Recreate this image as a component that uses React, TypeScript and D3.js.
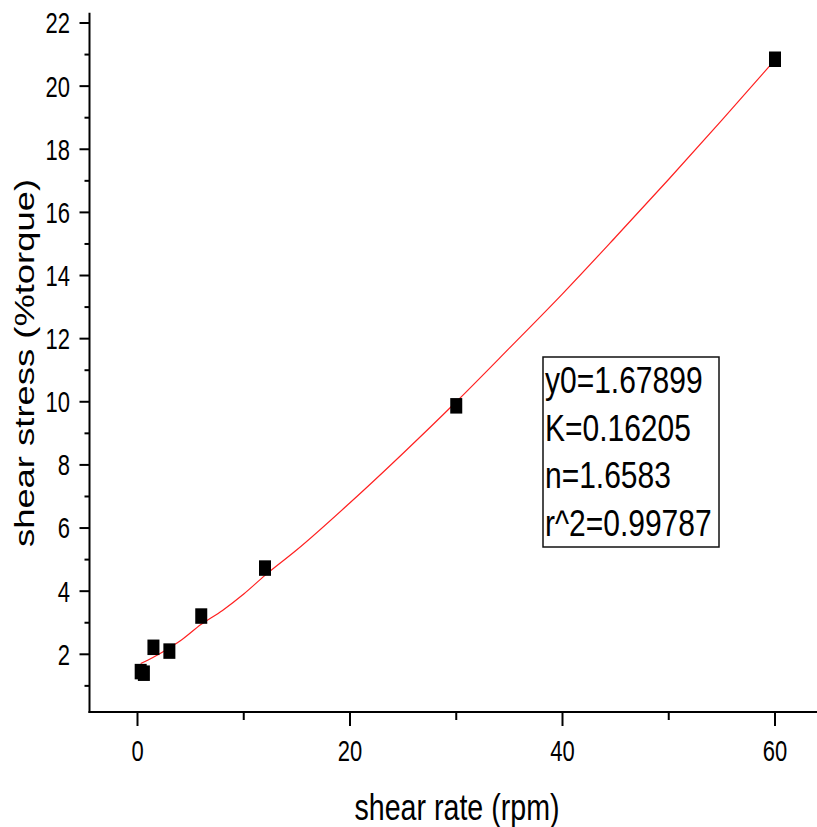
import React, { useEffect, useRef } from 'react';
import * as d3 from 'd3';

// measured points (rpm, %torque)
const shearRate = [0.3, 0.6, 1.5, 3, 6, 12, 30, 60];
const shearStress = [1.45, 1.4, 2.22, 2.1, 3.21, 4.73, 9.87, 20.85];

// fitted curve
const fitRate = [0.3, 1, 2, 3, 4, 6, 8, 10, 12, 15, 20, 25, 30, 35, 40, 45, 50, 55, 60];
const fitStress = [1.71, 1.82, 2.0, 2.21, 2.42, 2.95, 3.39, 3.91, 4.5, 5.31, 6.8, 8.37, 10.0, 11.7, 13.42, 15.22, 17.05, 18.92, 20.83];

const xMajor = [0, 20, 40, 60];
const xMinor = [10, 30, 50];
const yMajor = [2, 4, 6, 8, 10, 12, 14, 16, 18, 20, 22];
const yMinor = [1, 3, 5, 7, 9, 11, 13, 15, 17, 19, 21];

const fitLines = ['y0=1.67899', 'K=0.16205', 'n=1.6583', 'r^2=0.99787'];

const FONT = '"Liberation Sans", Arial, sans-serif';
const SY = 1.32; // the original image is stretched vertically

const App = () => {
  const svgRef = useRef<SVGSVGElement>(null);

  useEffect(() => {
    const svg = d3.select(svgRef.current);
    svg.selectAll('*').remove();

    const x = d3.scaleLinear().domain([0, 60]).range([137.5, 775]);
    const y = d3.scaleLinear().domain([2, 22]).range([654.3, 23]);
    const left = 89.5;
    const bottom = 712;
    const top = 12.7;
    const right = 817;

    const g = svg.append('g');

    // curve
    const line = d3.line<number>()
      .x((_, i) => x(fitRate[i]))
      .y(d => y(d))
      .curve(d3.curveMonotoneX);
    g.append('path')
      .datum(fitStress)
      .attr('d', line)
      .attr('fill', 'none')
      .attr('stroke', '#ff2020')
      .attr('stroke-width', 1.2);

    // points
    g.selectAll('.pt')
      .data(shearStress)
      .enter()
      .append('rect')
      .attr('class', 'pt')
      .attr('x', (_, i) => x(shearRate[i]) - 6)
      .attr('y', d => y(d) - 7.8)
      .attr('width', 12)
      .attr('height', 15.5)
      .attr('fill', '#000');

    // spines
    g.append('line').attr('x1', left).attr('x2', left).attr('y1', top).attr('y2', bottom + 1)
      .attr('stroke', '#000').attr('stroke-width', 2);
    g.append('line').attr('x1', left - 1).attr('x2', right).attr('y1', bottom).attr('y2', bottom)
      .attr('stroke', '#000').attr('stroke-width', 2);

    // y ticks
    g.selectAll('.ymaj').data(yMajor).enter().append('line')
      .attr('x1', left - 10).attr('x2', left).attr('y1', d => y(d)).attr('y2', d => y(d))
      .attr('stroke', '#000').attr('stroke-width', 2);
    g.selectAll('.ymin').data(yMinor).enter().append('line')
      .attr('x1', left - 5).attr('x2', left).attr('y1', d => y(d)).attr('y2', d => y(d))
      .attr('stroke', '#000').attr('stroke-width', 2);
    g.selectAll('.ylab').data(yMajor).enter().append('text')
      .attr('transform', d => `translate(70,${y(d)}) scale(1,${SY})`)
      .attr('y', 7.9)
      .attr('text-anchor', 'end')
      .attr('font-family', FONT)
      .attr('font-size', 22)
      .attr('fill', '#000')
      .text(d => d);

    // x ticks
    g.selectAll('.xmaj').data(xMajor).enter().append('line')
      .attr('x1', d => x(d)).attr('x2', d => x(d)).attr('y1', bottom).attr('y2', bottom + 14)
      .attr('stroke', '#000').attr('stroke-width', 2);
    g.selectAll('.xmin').data(xMinor).enter().append('line')
      .attr('x1', d => x(d)).attr('x2', d => x(d)).attr('y1', bottom).attr('y2', bottom + 8)
      .attr('stroke', '#000').attr('stroke-width', 2);
    g.selectAll('.xlab').data(xMajor).enter().append('text')
      .attr('transform', d => `translate(${x(d)},761) scale(1,${SY})`)
      .attr('text-anchor', 'middle')
      .attr('font-family', FONT)
      .attr('font-size', 22)
      .attr('fill', '#000')
      .text(d => d);

    // axis titles
    g.append('text')
      .attr('transform', `translate(457,820) scale(1,1.3)`)
      .attr('text-anchor', 'middle')
      .attr('font-family', FONT)
      .attr('font-size', 28.6)
      .attr('fill', '#000')
      .text('shear rate (rpm)');
    g.append('text')
      .attr('transform', `translate(33.5,363) scale(1,1.3) rotate(-90)`)
      .attr('text-anchor', 'middle')
      .attr('font-family', FONT)
      .attr('font-size', 28)
      .attr('fill', '#000')
      .text('shear stress (%torque)');

    // fit box
    g.append('rect')
      .attr('x', 543).attr('y', 357).attr('width', 176).attr('height', 190)
      .attr('fill', '#fff').attr('stroke', '#111').attr('stroke-width', 1.5);
    g.selectAll('.fit').data(fitLines).enter().append('text')
      .attr('transform', (_, i) => `translate(545,${393 + i * 47.5}) scale(1,1.25)`)
      .attr('font-family', FONT)
      .attr('font-size', 30)
      .attr('fill', '#000')
      .text(d => d);
  }, []);

  return (
    <svg ref={svgRef} width={817} height={827}
      style={{ position: 'absolute', left: 0, top: 0, background: '#fff' }} />
  );
};

export default App;
